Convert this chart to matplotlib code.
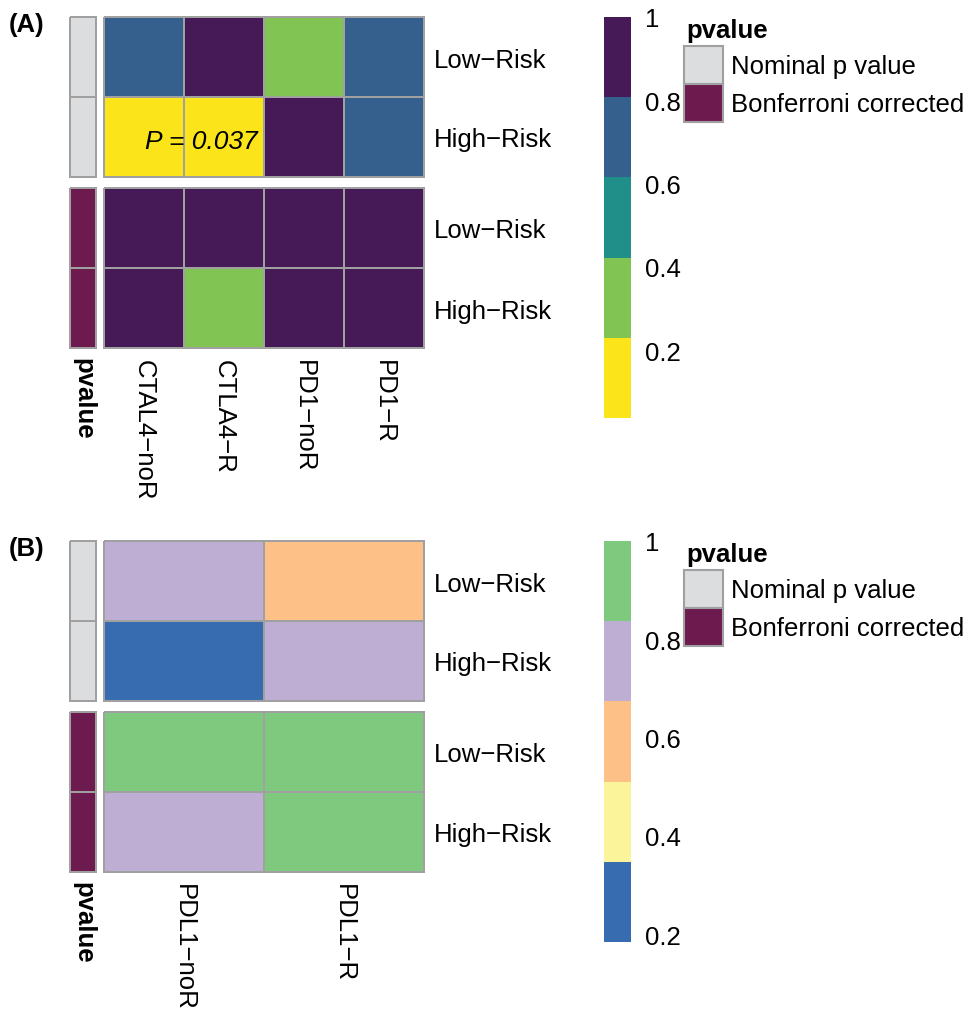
import numpy as np
import matplotlib.pyplot as plt
from matplotlib.colors import ListedColormap, BoundaryNorm
from matplotlib.patches import Rectangle

plt.rcParams['font.family'] = ['Liberation Sans', 'DejaVu Sans']

MINUS = '\u2212'
risk = [f'Low{MINUS}Risk', f'High{MINUS}Risk']

genes_a = [f'CTAL4{MINUS}noR', f'CTLA4{MINUS}R', f'PD1{MINUS}noR', f'PD1{MINUS}R']
nominal_a = [[0.70, 0.95, 0.35, 0.70],
             [0.18, 0.037, 1.00, 0.70]]
bonf_a = [[1.00, 1.00, 1.00, 1.00],
          [1.00, 0.296, 1.00, 1.00]]

genes_b = [f'PDL1{MINUS}noR', f'PDL1{MINUS}R']
nominal_b = [[0.75, 0.60],
             [0.184, 0.75]]
bonf_b = [[1.00, 1.00],
          [0.736, 1.00]]

ann_labels = ['Nominal p value', 'Bonferroni corrected']
ann_colors = ['#dcdddf', '#6d1a4f']

cols_a = ['#fbe51a', '#81c453', '#218f89', '#355f8d', '#461a56']
cols_b = ['#386cb0', '#fbf49a', '#fdc086', '#beaed4', '#7fc97f']
cbar_ticks = [0.2, 0.4, 0.6, 0.8, 1.0]
cbar_ticklabels = ['0.2', '0.4', '0.6', '0.8', '1']

W, H = 972, 1012
EDGE = '#a0a0a0'
FS = 18.5

fig = plt.figure(figsize=(W / 100, H / 100), dpi=100)


def px_axes(x0, y0, x1, y1):
    return fig.add_axes([x0 / W, 1 - y1 / H, (x1 - x0) / W, (y1 - y0) / H])


def block(ax, vals, cmap, norm):
    m = ax.pcolormesh(np.array(vals), cmap=cmap, norm=norm,
                      edgecolors=EDGE, linewidth=1.2)
    m.set_clip_on(False)
    ax.set_xlim(0, len(vals[0]))
    ax.set_ylim(len(vals), 0)
    for s in ax.spines.values():
        s.set_visible(False)
    ax.tick_params(length=0)
    ax.yaxis.tick_right()
    ax.set_yticks(np.arange(len(vals)) + 0.5)
    ax.set_yticklabels(risk, fontsize=FS)
    ax.tick_params(axis='y', pad=7)
    ax.set_xticks([])
    return m


def ann_block(ax, code):
    cm = ListedColormap(ann_colors)
    m = ax.pcolormesh(np.full((2, 1), code), cmap=cm, vmin=0, vmax=1,
                      edgecolors=EDGE, linewidth=1.2)
    m.set_clip_on(False)
    ax.set_xlim(0, 1)
    ax.set_ylim(2, 0)
    ax.axis('off')


def panel(top, genes, nominal, bonf, colors, letter, note=None):
    vals = np.array(nominal + bonf)
    edges = np.linspace(vals.min(), vals.max(), len(colors) + 1)
    cmap = ListedColormap(colors)
    norm = BoundaryNorm(edges, cmap.N)

    # annotation column
    ann_block(px_axes(70, top, 96, top + 160), 0)
    ann_block(px_axes(70, top + 171, 96, top + 331), 1)

    ax1 = px_axes(104, top, 424, top + 160)
    m = block(ax1, nominal, cmap, norm)
    ax2 = px_axes(104, top + 171, 424, top + 331)
    block(ax2, bonf, cmap, norm)
    ax2.set_xticks(np.arange(len(genes)) + 0.5)
    ax2.set_xticklabels(genes, rotation=270, fontsize=FS, va='top', ha='center')
    ax2.tick_params(axis='x', pad=8)

    if note is not None:
        r, c, txt = note
        ax1.text(c + 0.22, r + 0.55, txt, fontsize=19, style='italic',
                 ha='center', va='center')

    fig.text(83 / W, 1 - (top + 340) / H, 'pvalue', rotation=270,
             fontsize=FS, fontweight='bold', ha='center', va='top')
    fig.text(9 / W, 1 - (top + 7) / H, letter, fontsize=FS,
             fontweight='bold', ha='left', va='center')

    # colorbar
    cax = px_axes(604, top, 631, top + 401)
    cb = fig.colorbar(m, cax=cax, ticks=cbar_ticks)
    cb.set_ticklabels(cbar_ticklabels)
    cb.outline.set_visible(False)
    cax.minorticks_off()
    cax.tick_params(which='both', length=0, labelsize=FS, pad=10)

    # legend
    lax = px_axes(680, top + 6, 972, top + 140)
    lax.set_xlim(680, 972)
    lax.set_ylim(top + 140, top + 6)
    lax.axis('off')
    lax.text(686, top + 13, 'pvalue', fontsize=FS, fontweight='bold',
             ha='left', va='center')
    for i, (lab, col) in enumerate(zip(ann_labels, ann_colors)):
        y0 = top + 29 + i * 38
        lax.add_patch(Rectangle((684, y0), 39, 38, facecolor=col,
                                edgecolor=EDGE, linewidth=1.5))
        lax.text(731, y0 + 20, lab, fontsize=FS, ha='left', va='center')


panel(18, genes_a, nominal_a, bonf_a, cols_a, '(A)',
      note=(1, 1, 'P = 0.037'))
panel(542, genes_b, nominal_b, bonf_b, cols_b, '(B)')

fig.savefig('out.png', dpi=100, facecolor='white')
